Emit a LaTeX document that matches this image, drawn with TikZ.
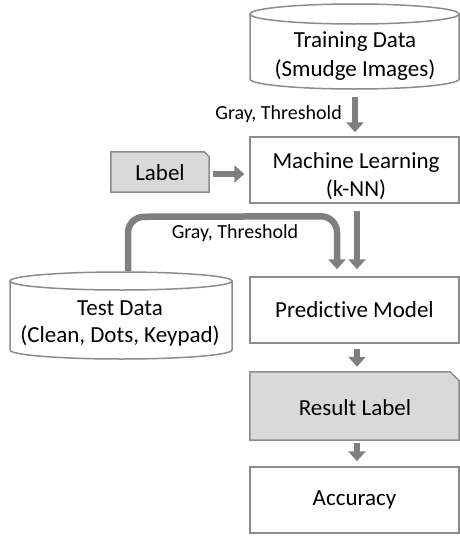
\documentclass[tikz,border=0pt]{standalone}
\usepackage{fontspec}
\setmainfont{Carlito}[Ligatures={NoCommon}]
\usetikzlibrary{arrows.meta,calc}
\definecolor{edgegray}{HTML}{8C8C8C}
\definecolor{arrgray}{HTML}{7F7F7F}
\definecolor{lblfill}{HTML}{D9D9D9}
\tikzset{
  outline/.style={draw=edgegray, line width=1.5pt},
  boxnode/.style={outline, minimum width=209pt, minimum height=66pt, inner sep=0pt, align=center, font=\fontsize{23}{28}\selectfont},
  area/.style={inner sep=0pt, align=center, font=\fontsize{23}{28}\selectfont},
  smalltext/.style={inner sep=0pt, font=\fontsize{20}{24}\selectfont},
  flow/.style={draw=arrgray, line width=6.5pt, -{Triangle[length=10pt,width=17pt]}},
}
\begin{document}
\begin{tikzpicture}[x=1pt,y=1pt]
\useasboundingbox (0,0) rectangle (460,-536);

% Training data cylinder
\node[area, minimum width=209pt, minimum height=85pt] (train) at (354.5,-46.5) {};
\draw[outline] (250,-14) -- (250,-79) arc[start angle=180,end angle=360,x radius=104.5,y radius=10] -- (459,-14);
\draw[outline] (354.5,-14) ellipse[x radius=104.5,y radius=10];
\node[area, font=\fontsize{23}{29}\selectfont] (traintext) at (355,-56) {Training Data\\(Smudge Images)};

% Machine learning box
\node[boxnode] (ml) at (354.5,-170) {};
\node[area] (mltext) at (356,-176) {Machine Learning\\(k-NN)};

% Label box
\node[area, minimum width=98pt, minimum height=40pt] (lab) at (160,-172) {};
\draw[outline, fill=lblfill] (lab.south west) -- (lab.north west) -- ($(lab.north east)+(-5,0)$) -- ($(lab.north east)+(0,-5)$) -- (lab.south east) -- cycle;
\node[area] (labtext) at (160,-173) {Label};

% Test data cylinder
\node[area, minimum width=222pt, minimum height=87pt] (test) at (121,-315.5) {};
\draw[outline] (10,-281) -- (10,-350) arc[start angle=180,end angle=360,x radius=111,y radius=9] -- (232,-281);
\draw[outline] (121,-281) ellipse[x radius=111,y radius=9];
\node[area, font=\fontsize{23}{27}\selectfont] (testtext) at (120,-323) {Test Data\\(Clean, Dots, Keypad)};

% Predictive model
\node[boxnode] (pm) at (354.5,-310) {Predictive Model};

% Result label
\node[area, minimum width=209pt, minimum height=68pt] (res) at (354.5,-406) {};
\draw[outline, fill=lblfill] (res.south west) -- (res.north west) -- ($(res.north east)+(-9,0)$) -- ($(res.north east)+(0,-9)$) -- (res.south east) -- cycle;
\node[area] (restext) at (355,-408) {Result Label};

% Accuracy
\node[boxnode] (acc) at (354.5,-500) {Accuracy};

% Connectors
\draw[flow] ($(train.south)+(0.5,-8)$) -- ($(ml.north)+(0.5,4)$);
\node[smalltext, anchor=east] (lbl1) at (342,-114) {Gray, Threshold};
\draw[flow] ($(lab.east)+(4,-2)$) -- ($(ml.west |- lab.east)+(-5,-2)$);
\draw[flow] ($(ml.south)+(2.5,-7)$) -- ($(pm.north)+(2.5,7)$);
\draw[flow, rounded corners=16pt] ($(test.north)+(7,0.5)$) -- ($(test.north)+(7,55)$) -- ($(pm.north)+(-17.5,60)$) -- ($(pm.north)+(-17.5,7)$);
\node[smalltext] (lbl2) at (235,-233) {Gray, Threshold};
\draw[flow] ($(pm.south)+(2.5,-5)$) -- ($(res.north)+(2.5,5)$);
\draw[flow] ($(res.south)+(2.5,-3)$) -- ($(acc.north)+(2.5,5)$);
\end{tikzpicture}
\end{document}
